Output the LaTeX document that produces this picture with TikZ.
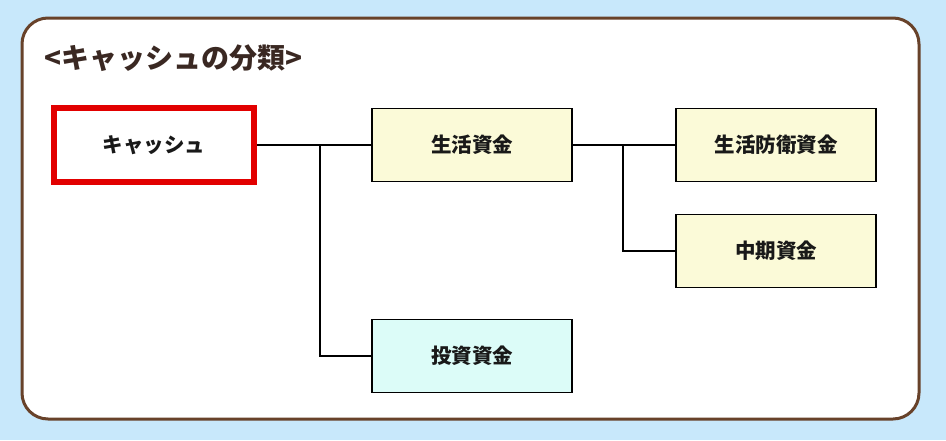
\documentclass[tikz,border=0pt]{standalone}
\usepackage{fontspec}
\setmainfont{Noto Sans CJK JP}
\usetikzlibrary{positioning}
\definecolor{BackClr}{RGB}{200,232,251}
\definecolor{FrameClr}{RGB}{104,66,42}
\definecolor{TitleClr}{RGB}{58,40,34}
\definecolor{CashClr}{RGB}{226,0,0}
\definecolor{LifeClr}{RGB}{251,250,216}
\definecolor{InvestClr}{RGB}{220,252,248}

\begin{document}
\begin{tikzpicture}[x=1pt,y=-1pt,
  fund/.style={draw=black,line width=1.6pt,minimum width=200pt,minimum height=73pt,
    font=\bfseries\fontsize{20.5}{20.5}\selectfont,text=black!90},
  branch/.style={line width=1.8pt,black}]

\fill[BackClr] (0,0) rectangle (946,440);
\draw[FrameClr,fill=white,line width=3pt,rounded corners=26pt] (22,18) rectangle (919,419);

\node[anchor=west,text=TitleClr,font=\bfseries\fontsize{28}{28}\selectfont] (title) at (41,58) {<キャッシュの分類>};

\node[fund,draw=CashClr,line width=6pt,fill=white,minimum width=200pt,minimum height=74pt] (cash) at (154,145) {キャッシュ};
\node[fund,fill=LifeClr] (life) at (472,145) {生活資金};
\node[fund,fill=LifeClr] (defense) at (776,145) {生活防衛資金};
\node[fund,fill=LifeClr] (middle) at (776,251) {中期資金};
\node[fund,fill=InvestClr] (invest) at (472,356) {投資資金};

\coordinate (jcash) at (320,145);
\coordinate (jlife) at (623,145);

\draw[branch] (cash.east) -- (life.west);
\draw[branch] (jcash) |- (invest.west);
\draw[branch] (life.east) -- (defense.west);
\draw[branch] (jlife) |- (middle.west);

\end{tikzpicture}
\end{document}
